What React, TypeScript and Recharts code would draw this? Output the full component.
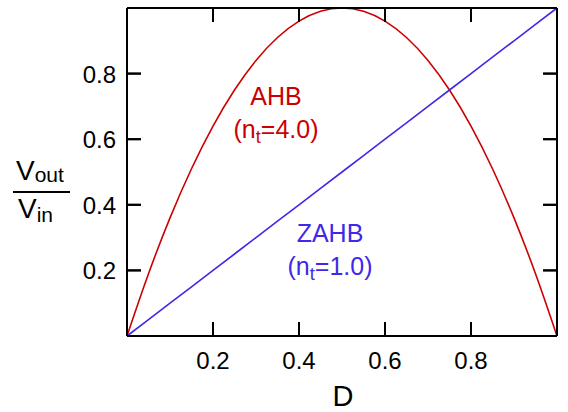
import React from 'react'
import { LineChart, Line, XAxis, YAxis, Customized } from 'recharts'

// duty cycle D and the two voltage gain curves
const dutyCycle = [0, 0.05, 0.1, 0.15, 0.2, 0.25, 0.3, 0.35, 0.4, 0.45, 0.5, 0.55, 0.6, 0.65, 0.7, 0.75, 0.8, 0.85, 0.9, 0.95, 1]
const ahbGain = [0, 0.19, 0.36, 0.51, 0.64, 0.75, 0.84, 0.91, 0.96, 0.99, 1, 0.99, 0.96, 0.91, 0.84, 0.75, 0.64, 0.51, 0.36, 0.19, 0]
const zahbGain = [0, 0.05, 0.1, 0.15, 0.2, 0.25, 0.3, 0.35, 0.4, 0.45, 0.5, 0.55, 0.6, 0.65, 0.7, 0.75, 0.8, 0.85, 0.9, 0.95, 1]
const xTicks = [0.2, 0.4, 0.6, 0.8]
const yTicks = [0.2, 0.4, 0.6, 0.8]

const data = dutyCycle.map((d, i) => ({ d, ahb: ahbGain[i], zahb: zahbGain[i] }))

const FONT = 'Liberation Sans, Arial, Helvetica, sans-serif'
const RED = '#cc0000'
const BLUE = '#4028e6'
const TICK_LEN = 14
const frame = { stroke: '#000', strokeWidth: 2 }

// inward ticks: negative tickSize puts the tick line inside the plot,
// tickMargin brings the label anchor back onto the axis line
const BottomTick = (props: any) => {
  const { x, y, payload } = props
  return (
    <g>
      <line x1={x} y1={y} x2={x} y2={y - TICK_LEN} stroke="#000" strokeWidth={2} />
      <text x={x} y={y + 33} textAnchor="middle" fontSize={24} fontFamily={FONT} fill="#000">
        {payload.value.toFixed(1)}
      </text>
    </g>
  )
}

const TopTick = (props: any) => {
  const { x, y } = props
  return <line x1={x} y1={y} x2={x} y2={y + TICK_LEN} stroke="#000" strokeWidth={2} />
}

const LeftTick = (props: any) => {
  const { x, y, payload } = props
  return (
    <g>
      <line x1={x} y1={y} x2={x + TICK_LEN} y2={y} stroke="#000" strokeWidth={2} />
      <text x={x - 11} y={y + 9} textAnchor="end" fontSize={24} fontFamily={FONT} fill="#000">
        {payload.value.toFixed(1)}
      </text>
    </g>
  )
}

const RightTick = (props: any) => {
  const { x, y } = props
  return <line x1={x} y1={y} x2={x - TICK_LEN} y2={y} stroke="#000" strokeWidth={2} />
}

const Annotations = () => (
  <g fontFamily={FONT}>
    {/* y axis label as a fraction */}
    <text x={16} y={180} fontSize={28} fill="#000">
      V<tspan fontSize={21} dy={2}>out</tspan>
    </text>
    <line x1={13} y1={192} x2={70} y2={192} stroke="#000" strokeWidth={2} />
    <text x={18} y={218} fontSize={28} fill="#000">
      V<tspan fontSize={21} dy={4}>in</tspan>
    </text>

    <text x={276} y={105} fontSize={25} fill={RED} textAnchor="middle">AHB</text>
    <text x={276} y={138} fontSize={25} fill={RED} textAnchor="middle">
      (n<tspan fontSize={18} dy={5}>t</tspan><tspan dy={-5}>=4.0)</tspan>
    </text>

    <text x={330} y={242} fontSize={25} fill={BLUE} textAnchor="middle">ZAHB</text>
    <text x={330} y={275} fontSize={25} fill={BLUE} textAnchor="middle">
      (n<tspan fontSize={18} dy={5}>t</tspan><tspan dy={-5}>=1.0)</tspan>
    </text>

    <text x={343} y={406} fontSize={29} fill="#000" textAnchor="middle">D</text>
  </g>
)

const App: React.FC = () => (
  <div style={{ position: 'absolute', left: 0, top: 0, width: 568, height: 412, background: '#fff' }}>
    <LineChart width={568} height={412} data={data} margin={{ top: 7, right: 10, bottom: 0, left: 0 }}>
      <XAxis
        dataKey="d"
        type="number"
        domain={[0, 1]}
        ticks={xTicks}
        interval={0}
        height={76}
        axisLine={frame}
        tickLine={frame}
        tickSize={-TICK_LEN}
        tickMargin={TICK_LEN}
        tick={<BottomTick />}
      />
      <XAxis
        xAxisId="top"
        dataKey="d"
        type="number"
        orientation="top"
        domain={[0, 1]}
        ticks={xTicks}
        interval={0}
        height={1}
        axisLine={frame}
        tickLine={frame}
        tickSize={-TICK_LEN}
        tickMargin={TICK_LEN}
        tick={<TopTick />}
      />
      <YAxis
        type="number"
        domain={[0, 1]}
        ticks={yTicks}
        interval={0}
        width={127}
        axisLine={frame}
        tickLine={frame}
        tickSize={-TICK_LEN}
        tickMargin={TICK_LEN}
        tick={<LeftTick />}
      />
      <YAxis
        yAxisId="right"
        type="number"
        orientation="right"
        domain={[0, 1]}
        ticks={yTicks}
        interval={0}
        width={1}
        axisLine={frame}
        tickLine={frame}
        tickSize={-TICK_LEN}
        tickMargin={TICK_LEN}
        tick={<RightTick />}
      />
      <Line type="monotone" dataKey="ahb" stroke={RED} strokeWidth={1.6} dot={false} isAnimationActive={false} />
      <Line type="linear" dataKey="zahb" stroke={BLUE} strokeWidth={1.6} dot={false} isAnimationActive={false} />
      <Line xAxisId="top" yAxisId="right" dataKey="zahb" stroke="none" dot={false} legendType="none" isAnimationActive={false} />
      <Customized component={<Annotations />} />
    </LineChart>
  </div>
)

export default App
